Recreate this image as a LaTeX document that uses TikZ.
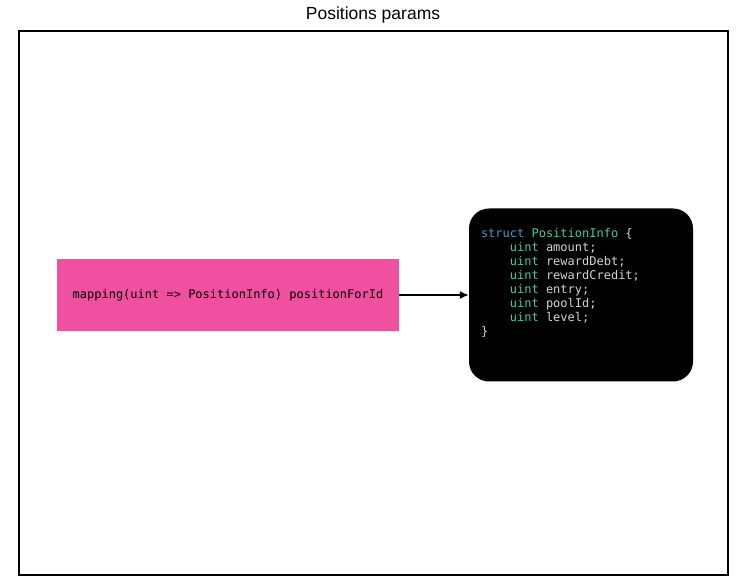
\documentclass[tikz,border=0pt]{standalone}
\usepackage{fontspec}
\setmainfont{Liberation Sans}
\setmonofont{DejaVu Sans Mono}
\usetikzlibrary{arrows.meta,positioning}
\definecolor{mappink}{RGB}{240,80,160}
\definecolor{kwblue}{RGB}{66,156,214}
\definecolor{typeteal}{RGB}{70,201,170}
\definecolor{codegray}{RGB}{212,212,212}
\newcommand{\ind}{\hphantom{xxxx}}
\newcommand{\kw}[1]{\textcolor{kwblue}{#1}}
\newcommand{\ty}[1]{\textcolor{typeteal}{#1}}
\tikzstyle{frame}=[
	rectangle,
	draw=black,
	line width=2pt
]
\tikzstyle{mapping}=[
	rectangle,
	fill=mappink,
	minimum width=342pt,
	minimum height=72pt,
	inner sep=0pt,
	font=\ttfamily\fontsize{12}{14}\selectfont
]
\tikzstyle{structbox}=[
	rectangle,
	rounded corners=20pt,
	fill=black,
	minimum width=224pt,
	minimum height=173pt,
	inner sep=0pt
]
\tikzstyle{code}=[
	align=left,
	inner sep=0pt,
	text=codegray,
	font=\ttfamily\fontsize{12}{14}\selectfont
]
\tikzstyle{link}=[
	-{Latex[length=9pt,width=8pt]},
	line width=1.5pt
]

\begin{document}
\begin{tikzpicture}[x=1pt,y=-1pt]
\useasboundingbox (0,0) rectangle (748,585);
\draw [frame] (19,31) rectangle (728,575);
\node (Title) at (373,14.5) {\fontsize{17.5}{20}\selectfont Positions params};
\node [mapping] (Mapping) at (228,295) {mapping(uint => PositionInfo) positionForId};
\node [structbox] (Struct) at (581,295) {};
\node [code, anchor=north west] (StructCode) at ([xshift=12pt,yshift=-20pt]Struct.north west) {%
\kw{struct} \ty{PositionInfo} \{\\
\ind\ty{uint} amount;\\
\ind\ty{uint} rewardDebt;\\
\ind\ty{uint} rewardCredit;\\
\ind\ty{uint} entry;\\
\ind\ty{uint} poolId;\\
\ind\ty{uint} level;\\
\}};
\draw [link] (Mapping.east) -- (Struct.west);
\end{tikzpicture}
\end{document}
